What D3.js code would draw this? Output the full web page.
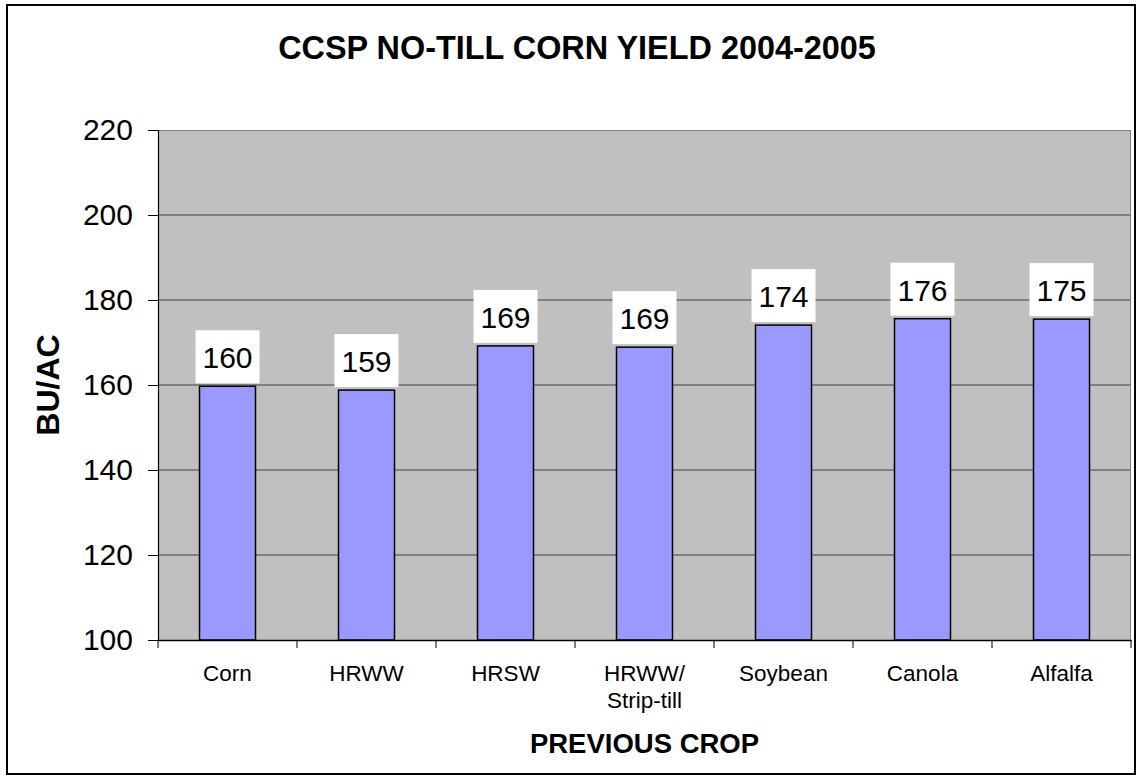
<!DOCTYPE html>
<html><head><meta charset="utf-8">
<script src="https://cdn.jsdelivr.net/npm/d3@7"></script>
<style>body{margin:0;background:#fff}svg{display:block;font-family:Arial,"Liberation Sans",sans-serif}</style>
</head><body>
<svg id="c" width="1140" height="778"></svg>
<script>
const categories = ["Corn","HRWW","HRSW","HRWW/\nStrip-till","Soybean","Canola","Alfalfa"];
const values = [159.7,158.8,169.2,168.9,174.1,175.6,175.5];
const labels = ["160","159","169","169","174","176","175"];
const yTicks = [100,120,140,160,180,200,220];
const title = "CCSP NO-TILL CORN YIELD 2004-2005";
const yTitle = "BU/AC";
const xTitle = "PREVIOUS CROP";

const svg = d3.select("#c");
const L=158, R=1131, T=130, B=640;
svg.append("rect").attr("x",7).attr("y",5).attr("width",1128).attr("height",769).attr("fill","#fff").attr("stroke","#000").attr("stroke-width",2);

const xb = d3.scaleBand().domain(categories).range([L,R]);
const y = d3.scaleLinear().domain([100,220]).range([B,T]);

svg.append("rect").attr("x",L).attr("y",T).attr("width",R-L).attr("height",B-T).attr("fill","#c0c0c0");
// gridlines
svg.append("g").selectAll("line").data(yTicks.filter(v=>v>100&&v<220)).join("line")
  .attr("x1",L).attr("x2",R).attr("y1",d=>y(d)).attr("y2",d=>y(d)).attr("stroke","#404040").attr("stroke-width",1);
// top and right border
svg.append("path").attr("d",`M${L},${T+0.5}H${R-0.5}V${B}`).attr("fill","none").attr("stroke","#808080").attr("stroke-width",1);

// bars
svg.append("g").selectAll("rect").data(values).join("rect")
  .attr("x",(d,i)=>xb(categories[i])+xb.bandwidth()/2-28)
  .attr("width",56)
  .attr("y",d=>y(d)).attr("height",d=>B-y(d))
  .attr("fill","#9999ff").attr("stroke","#000").attr("stroke-width",1.5);

// y axis
const ya = d3.axisLeft(y).tickValues(yTicks).tickSize(10).tickPadding(15).tickFormat(d3.format("d"));
const yg = svg.append("g").attr("transform",`translate(${L},0)`).call(ya);
yg.select(".domain").attr("stroke","#000").attr("stroke-width",1.2);
yg.selectAll(".tick line").attr("stroke","#000");
yg.selectAll("text").attr("font-size",30).attr("fill","#000").attr("font-family","Arial,'Liberation Sans',sans-serif");

// x axis
const xa = d3.axisBottom(xb).tickSize(0).tickFormat("");
const xg = svg.append("g").attr("transform",`translate(0,${B})`).call(xa);
xg.select(".domain").attr("stroke","#000").attr("stroke-width",1.5);
// boundary ticks
const bounds = categories.map(c=>xb(c)).concat([R]);
svg.append("g").selectAll("line").data(bounds).join("line")
  .attr("x1",d=>d).attr("x2",d=>d).attr("y1",B).attr("y2",B+8).attr("stroke","#000").attr("stroke-width",1);
// x labels
const xl = svg.append("g").selectAll("text").data(categories).join("text")
  .attr("x",d=>xb(d)+xb.bandwidth()/2).attr("y",681).attr("text-anchor","middle").attr("font-size",22.5).attr("fill","#000");
xl.each(function(d){
  const parts=d.split("\n");
  d3.select(this).selectAll("tspan").data(parts).join("tspan")
    .attr("x",xb(d)+xb.bandwidth()/2).attr("dy",(p,i)=>i?27:0).text(p=>p);
});

// data labels
const dl = svg.append("g").selectAll("g").data(values).join("g")
  .attr("transform",(d,i)=>`translate(${xb(categories[i])+xb.bandwidth()/2},${y(d)-3})`);
dl.append("rect").attr("x",-32).attr("y",-53).attr("width",64).attr("height",53).attr("fill","#fff");
dl.append("text").attr("x",0).attr("y",-15).attr("text-anchor","middle").attr("font-size",30).attr("fill","#000").text((d,i)=>labels[i]);

// titles
svg.append("text").attr("x",577).attr("y",59).attr("text-anchor","middle").attr("font-size",32.4).attr("font-weight","bold").text(title);
svg.append("text").attr("transform","translate(59,385) rotate(-90)").attr("text-anchor","middle").attr("font-size",32).attr("font-weight","bold").text(yTitle);
svg.append("text").attr("x",(L+R)/2).attr("y",753).attr("text-anchor","middle").attr("font-size",27.5).attr("font-weight","bold").text(xTitle);
</script>
</body></html>
